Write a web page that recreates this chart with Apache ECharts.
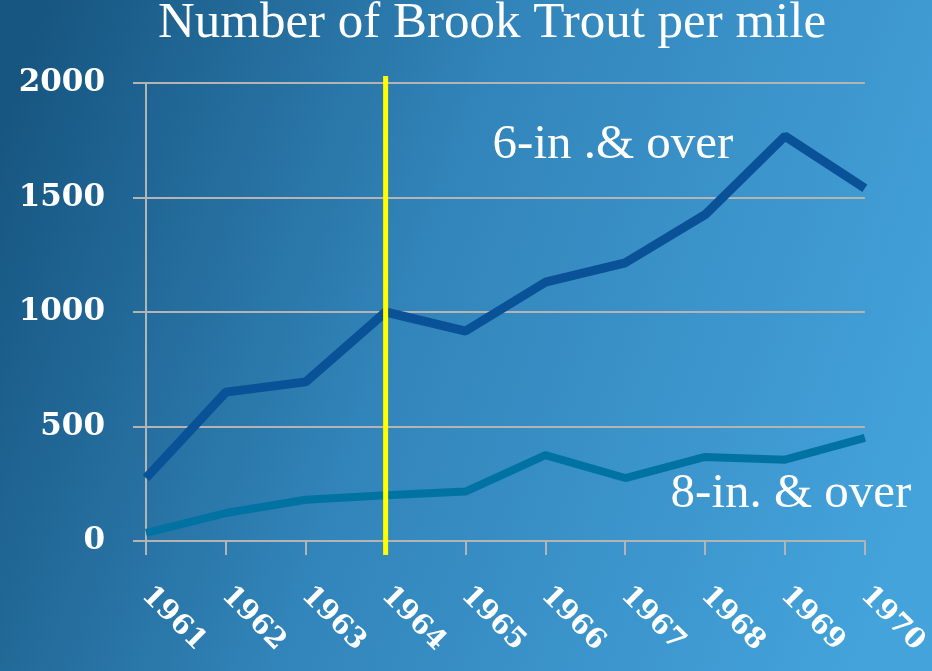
<!DOCTYPE html>
<html>
<head>
<meta charset="utf-8">
<script src="https://cdn.jsdelivr.net/npm/echarts@6/dist/echarts.min.js"></script>
<style>
  html, body { margin: 0; padding: 0; }
  #chart { width: 932px; height: 671px; }
</style>
</head>
<body>
<div id="chart"></div>
<script>
// 年份
const years = ['1961', '1962', '1963', '1964', '1965', '1966', '1967', '1968', '1969', '1970'];
// 6-in & over
const sixInch = [275, 650, 695, 1000, 917, 1130, 1215, 1425, 1768, 1540];
// 8-in & over
const eightInch = [35, 122, 180, 200, 216, 375, 275, 367, 355, 450];
// 標記年份
const markYear = ['1964'];

const chart = echarts.init(document.getElementById('chart'));

const serif = '"Liberation Serif", "DejaVu Serif", serif';

chart.setOption({
  backgroundColor: {
    type: 'linear',
    x: 0, y: 0.2, x2: 1, y2: 0.7,
    colorStops: [
      { offset: 0, color: '#175681' },
      { offset: 0.45, color: '#3285ba' },
      { offset: 1, color: '#44a3db' }
    ]
  },
  animation: false,
  grid: { left: 146, right: 66, top: 83, bottom: 130 },
  graphic: [
    {
      type: 'text', x: 492, y: 24,
      style: { text: 'Number of Brook Trout per mile', fill: '#fff', font: '51px ' + serif, align: 'center', verticalAlign: 'middle' }
    },
    {
      type: 'text', x: 613, y: 145,
      style: { text: '6-in .& over', fill: '#fff', font: '49px ' + serif, align: 'center', verticalAlign: 'middle' }
    },
    {
      type: 'text', x: 791, y: 494,
      style: { text: '8-in. & over', fill: '#fff', font: '49px ' + serif, align: 'center', verticalAlign: 'middle' }
    }
  ],
  xAxis: {
    type: 'category',
    data: years,
    boundaryGap: false,
    axisLine: { lineStyle: { color: '#b4b4b4', width: 2 } },
    axisTick: { length: 14, lineStyle: { color: '#b4b4b4', width: 2 } },
    axisLabel: {
      rotate: -45,
      margin: 50,
      color: '#fff',
      fontFamily: '"DejaVu Serif", serif',
      fontWeight: 'bold',
      fontSize: 28
    }
  },
  yAxis: {
    type: 'value',
    min: 0,
    max: 2000,
    interval: 500,
    axisLine: { show: true, lineStyle: { color: '#b4b4b4', width: 2 } },
    axisTick: { show: true, length: 13, lineStyle: { color: '#b4b4b4', width: 2 } },
    splitLine: { lineStyle: { color: '#b4b4b4', width: 2 } },
    axisLabel: {
      margin: 41,
      color: '#fff',
      fontFamily: '"DejaVu Serif", serif',
      fontWeight: 'bold',
      fontSize: 31,
      formatter: (v) => String(v)
    }
  },
  series: [
    {
      name: '8-in. & over',
      type: 'line',
      data: eightInch,
      symbol: 'none',
      lineStyle: { color: '#0073a3', width: 8 },
      z: 3
    },
    {
      name: '6-in .& over',
      type: 'line',
      data: sixInch,
      symbol: 'none',
      lineStyle: { color: '#0a5297', width: 9 },
      z: 4
    },
    {
      // 黃色分隔線，上下略超出繪圖區
      type: 'custom',
      data: markYear.map((y) => [y, 0, 2000]),
      encode: { x: 0, y: [1, 2] },
      z: 5,
      renderItem: (params, api) => {
        const bottom = api.coord([api.value(0), api.value(1)]);
        const top = api.coord([api.value(0), api.value(2)]);
        return {
          type: 'line',
          shape: { x1: bottom[0], y1: bottom[1] + 14, x2: top[0], y2: top[1] - 7 },
          style: { stroke: '#ffff00', lineWidth: 5 }
        };
      }
    }
  ]
});
</script>
</body>
</html>
